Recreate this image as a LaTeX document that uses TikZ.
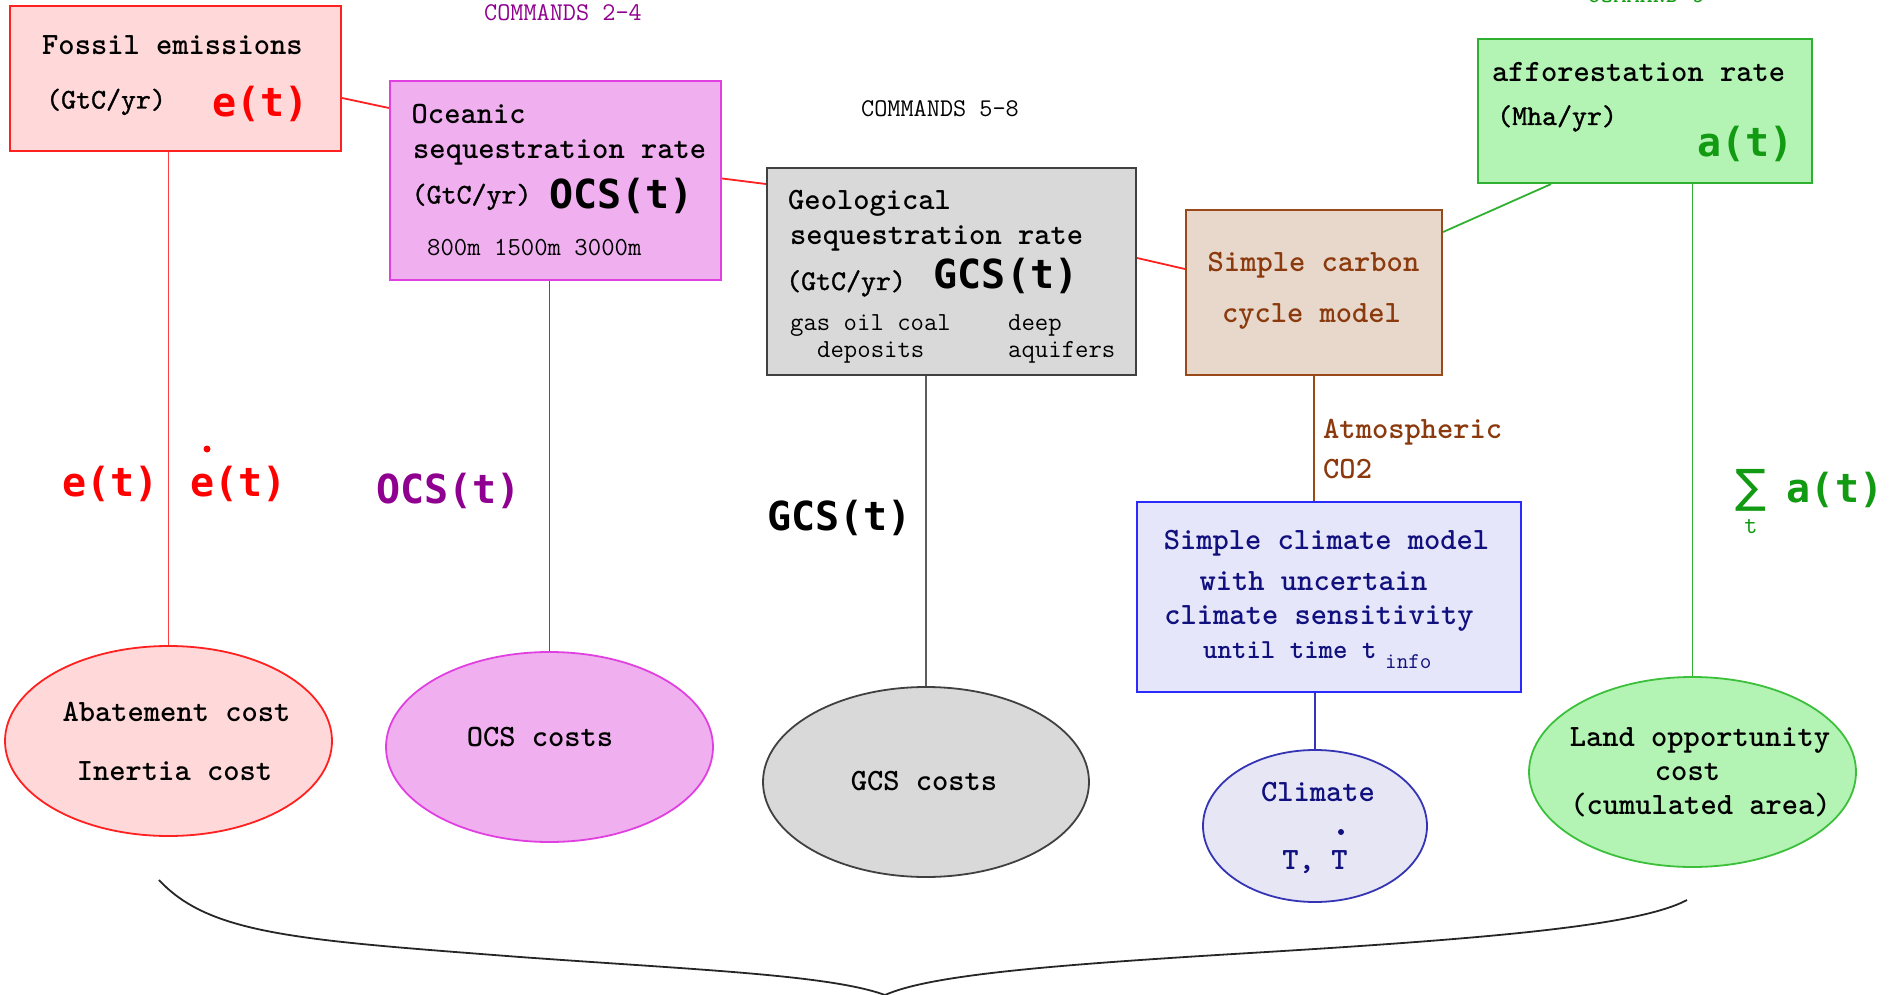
\documentclass[tikz,border=0pt]{standalone}
\usepackage{fontspec}
\usetikzlibrary{shapes.geometric}
\newfontfamily\bigmono{DejaVu Sans Mono}
\newfontfamily\symfont{DejaVu Sans}
\newfontfamily\unitmono{lmmono10-regular.otf}[FakeBold=1.2]

\definecolor{fosfill}{HTML}{FFD9D9}
\definecolor{fosdraw}{HTML}{FF2020}
\definecolor{ocefill}{HTML}{F0B0F0}
\definecolor{ocedraw}{HTML}{E040E0}
\definecolor{ocetext}{HTML}{900090}
\definecolor{geofill}{HTML}{D9D9D9}
\definecolor{geodraw}{HTML}{404040}
\definecolor{carfill}{HTML}{E8D8CC}
\definecolor{cardraw}{HTML}{9A4A1A}
\definecolor{cartext}{HTML}{8B3A0E}
\definecolor{affill}{HTML}{B3F3B3}
\definecolor{afdraw}{HTML}{30B030}
\definecolor{aftext}{HTML}{129A12}
\definecolor{clifill}{HTML}{E6E6FA}
\definecolor{clidraw}{HTML}{2A2AFF}
\definecolor{clitext}{HTML}{10107E}
\definecolor{cellfill}{HTML}{E6E6F5}
\definecolor{celldraw}{HTML}{3434B4}
\definecolor{landdraw}{HTML}{3CC03C}

\begin{document}
\begin{tikzpicture}[x=1pt,y=-1pt,
  boxtxt/.style={font=\ttfamily\bfseries\fontsize{31}{36}\selectfont, inner sep=0},
  unittxt/.style={font=\unitmono\fontsize{28.5}{34}\selectfont, inner sep=0},
  smalltxt/.style={font=\ttfamily\fontsize{26}{30}\selectfont, inner sep=0},
  cmdtxt/.style={font=\ttfamily\fontsize{25.5}{30}\selectfont, inner sep=0},
  bigtxt/.style={font=\bigmono\bfseries\fontsize{40}{46}\selectfont, inner sep=0},
  ratebox/.style={rectangle, draw, line width=2.2pt, inner sep=0},
  costell/.style={ellipse, draw, line width=1.8pt, inner sep=0},
  link/.style={line width=1.8pt},
  dotmark/.style={circle, inner sep=0, minimum size=7pt}]

\useasboundingbox (0,0) rectangle (1891,995);

% ---- rate boxes ----
\node[ratebox, fill=fosfill, draw=fosdraw, minimum width=331pt, minimum height=145pt] (fossil) at (175.5,78.5) {};
\node[ratebox, fill=ocefill, draw=ocedraw, minimum width=331pt, minimum height=199pt] (ocean) at (555.5,180.5) {};
\node[ratebox, fill=geofill, draw=geodraw, minimum width=369pt, minimum height=207pt] (geo) at (951.5,271.5) {};
\node[ratebox, fill=carfill, draw=cardraw, minimum width=256pt, minimum height=165pt] (carbon) at (1314,292.5) {};
\node[ratebox, fill=affill, draw=afdraw, minimum width=334pt, minimum height=144pt] (affor) at (1645,111) {};
\node[ratebox, fill=clifill, draw=clidraw, minimum width=384pt, minimum height=190pt] (climbox) at (1329,597) {};

% ---- cost ellipses ----
\node[costell, fill=fosfill, draw=fosdraw, minimum width=327pt, minimum height=190pt] (abat) at (168.5,741) {};
\node[costell, fill=ocefill, draw=ocedraw, minimum width=327pt, minimum height=190pt] (ocscost) at (549.5,747) {};
\node[costell, fill=geofill, draw=geodraw, minimum width=326pt, minimum height=190pt] (gcscost) at (926,782) {};
\node[costell, fill=cellfill, draw=celldraw, minimum width=224pt, minimum height=152pt] (climell) at (1315,826) {};
\node[costell, fill=affill, draw=landdraw, minimum width=327pt, minimum height=190pt] (land) at (1692.5,772) {};

% ---- links between the rate boxes ----
\draw[link, fosdraw] ([yshift=-19.5pt]fossil.east) -- ([yshift=72.5pt]ocean.west);
\draw[link, fosdraw] ([yshift=2pt]ocean.east) -- ([yshift=87.5pt]geo.west);
\draw[link, fosdraw] ([yshift=13.5pt]geo.east) -- ([yshift=23.5pt]carbon.west);
\draw[link, afdraw] ([yshift=60.5pt]carbon.east) -- ([xshift=-94pt]affor.south);

% ---- vertical links down to the costs ----
\draw[link, red!75] (fossil.south -| abat.north) -- (abat.north);
\draw[link, ocetext!85!white] (ocean.south -| ocscost.north) -- (ocscost.north);
\draw[link, geodraw!85!white] (geo.south -| gcscost.north) -- (gcscost.north);
\draw[link, cardraw] (carbon.south) -- (carbon.south |- climbox.north);
\draw[link, celldraw] (climell.north |- climbox.south) -- (climell.north);
\draw[link, afdraw] (affor.south -| land.north) -- (land.north);

% ---- command labels ----
\node[cmdtxt, text=ocetext, anchor=base west] (cmd1) at (484,20.7) {COMMANDS 2-4};
\node[cmdtxt, anchor=base west] (cmd2) at (861,117) {COMMANDS 5-8};
\node[cmdtxt, text=aftext, anchor=base west] (cmd3) at (1587,3) {COMMAND 9};

% ---- fossil emissions ----
\node[boxtxt, anchor=base west] (t1) at (42,54.5) {Fossil emissions};
\node[unittxt, anchor=base west] (t2) at (46,108.5) {(GtC/yr)};
\node[bigtxt, text=red, anchor=base] (t3) at (260.5,117) {e(t)};

% ---- oceanic sequestration ----
\node[boxtxt, anchor=base west] (t4) at (411.5,123.6) {Oceanic};
\node[boxtxt, anchor=base west] (t5) at (413,158.6) {sequestration rate};
\node[unittxt, anchor=base west] (t6) at (411.5,203.5) {(GtC/yr)};
\node[bigtxt, anchor=base] (t7) at (621.5,208.5) {OCS(t)};
\node[smalltxt, anchor=base west] (t8) at (427,255) {800m 1500m 3000m};

% ---- geological sequestration ----
\node[boxtxt, anchor=base west] (t9) at (788,210) {Geological};
\node[boxtxt, anchor=base west] (t10) at (790,245) {sequestration rate};
\node[unittxt, anchor=base west] (t11) at (786,290) {(GtC/yr)};
\node[bigtxt, anchor=base] (t12) at (1006,288) {GCS(t)};
\node[smalltxt, anchor=base west] (t13) at (790,330) {gas oil coal};
\node[smalltxt, anchor=base west] (t14) at (817,357) {deposits};
\node[smalltxt, anchor=base west] (t15) at (1008,330) {deep};
\node[smalltxt, anchor=base west] (t16) at (1008,357) {aquifers};

% ---- carbon cycle ----
\node[boxtxt, text=cartext, anchor=base] (t17) at (1313.5,272) {Simple carbon};
\node[boxtxt, text=cartext, anchor=base] (t18) at (1311.5,323) {cycle model};
\node[boxtxt, text=cartext, anchor=base west] (t19) at (1323,438) {Atmospheric};
\node[boxtxt, text=cartext, anchor=base west] (t20) at (1323,478.6) {CO2};

% ---- afforestation ----
\node[boxtxt, anchor=base west] (t21) at (1492,82) {afforestation rate};
\node[unittxt, anchor=base west] (t22) at (1497,125) {(Mha/yr)};
\node[bigtxt, text=aftext, anchor=base] (t23) at (1745.5,157) {a(t)};

% ---- climate model ----
\node[boxtxt, text=clitext, anchor=base] (t24) at (1326.5,549) {Simple climate model};
\node[boxtxt, text=clitext, anchor=base] (t25) at (1313.5,590) {with uncertain};
\node[boxtxt, text=clitext, anchor=base] (t26) at (1319,624) {climate sensitivity};
\node[boxtxt, text=clitext, font=\ttfamily\bfseries\fontsize{27.5}{32}\selectfont, anchor=base west] (t27) at (1203,658) {until time t};
\node[cmdtxt, text=clitext, font=\ttfamily\fontsize{22.5}{26}\selectfont, anchor=base west] (t28) at (1385,668) {info};

% ---- flow labels ----
\node[bigtxt, text=red, anchor=base] (t29) at (110.5,496) {e(t)};
\node[bigtxt, text=red, anchor=base] (t30) at (238.5,496) {e(t)};
\node[dotmark, fill=red] (d1) at (207,449) {};
\node[bigtxt, text=ocetext, anchor=base] (t31) at (448.5,503) {OCS(t)};
\node[bigtxt, anchor=base] (t32) at (839.5,530) {GCS(t)};
\node[inner sep=0, text=aftext, font=\symfont\fontsize{46}{50}\selectfont, anchor=base] (t33) at (1751,502) {∑};
\node[cmdtxt, text=aftext, anchor=base] (t34) at (1751,533) {t};
\node[bigtxt, text=aftext, anchor=base] (t35) at (1835,502.6) {a(t)};

% ---- cost labels ----
\node[boxtxt, anchor=base] (t36) at (176.5,721) {Abatement cost};
\node[boxtxt, anchor=base] (t37) at (174.5,780) {Inertia cost};
\node[boxtxt, anchor=base] (t38) at (540,746) {OCS costs};
\node[boxtxt, anchor=base] (t39) at (924,790) {GCS costs};
\node[boxtxt, text=clitext, anchor=base] (t40) at (1318,801) {Climate};
\node[boxtxt, text=clitext, anchor=base] (t41) at (1315,869) {T, T};
\node[dotmark, fill=clitext, minimum size=6pt] (d2) at (1341,832) {};
\node[boxtxt, anchor=base] (t42) at (1700,746) {Land opportunity};
\node[boxtxt, anchor=base] (t43) at (1687.5,780) {cost};
\node[boxtxt, anchor=base] (t44) at (1700.5,814) {(cumulated area)};

% ---- brace gathering all costs ----
\draw[line width=1.8pt, black!85] (159,880) .. controls (210,935) and (300,940) .. (520,957)
  .. controls (700,970) and (830,975) .. (885,995)
  .. controls (930,975) and (1050,965) .. (1250,953)
  .. controls (1500,938) and (1640,925) .. (1687,900);
\end{tikzpicture}
\end{document}
